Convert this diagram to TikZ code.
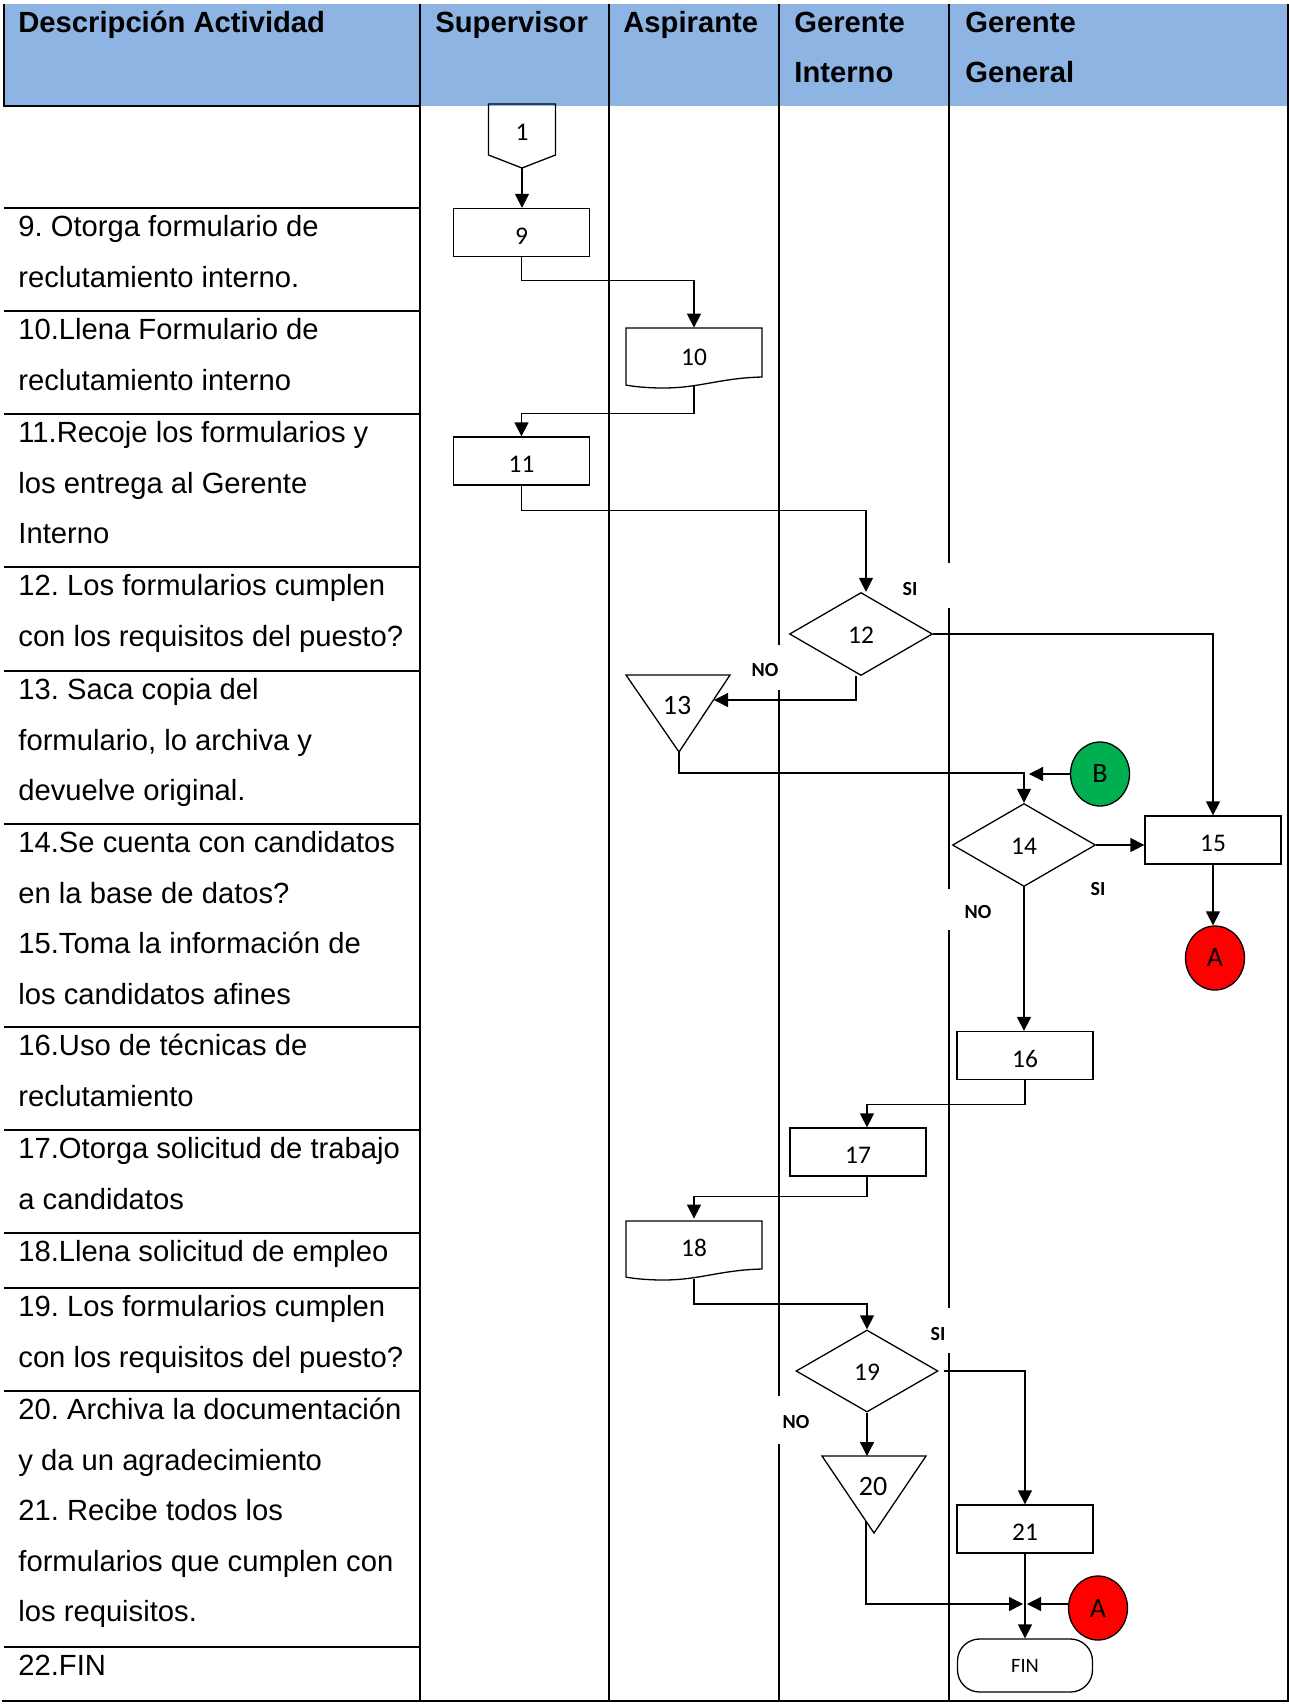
\documentclass[tikz,border=0pt]{standalone}
\usepackage{fontspec}
\setmainfont{Liberation Sans}
\newfontfamily\calib{Carlito}
\usetikzlibrary{arrows.meta,shapes.geometric,calc}
\definecolor{hdrblue}{RGB}{141,180,226}
\definecolor{conngreen}{RGB}{0,176,80}
\definecolor{connred}{RGB}{255,0,0}
\frenchspacing
\begin{document}
\begin{tikzpicture}[x=0.5pt,y=-0.5pt,
  grid/.style={line width=0.9pt},
  desc/.style={anchor=base west,inner sep=0pt,font=\fontsize{14.6pt}{17pt}\selectfont},
  head/.style={anchor=base west,inner sep=0pt,font=\fontsize{14.6pt}{17pt}\selectfont\bfseries},
  lab/.style={inner sep=0pt,font=\calib\fontsize{12.7pt}{15pt}\selectfont},
  proc/.style={draw,line width=0.65pt,rectangle,minimum width=68pt,minimum height=24pt,inner sep=0pt,
    text height=11.8pt,text depth=0pt,font=\calib\fontsize{12.7pt}{15pt}\selectfont},
  docbox/.style={rectangle,minimum width=68pt,minimum height=29pt,inner sep=0pt,font=\calib\fontsize{12.7pt}{15pt}\selectfont},
  decision/.style={draw,line width=0.65pt,diamond,aspect=1.7,minimum width=71.5pt,minimum height=41.5pt,inner sep=0pt,
    text height=9.4pt,text depth=0pt,font=\calib\fontsize{12.7pt}{15pt}\selectfont},
  tri/.style={inner sep=0pt,font=\calib\fontsize{14pt}{16pt}\selectfont},
  linkdot/.style={draw,line width=0.65pt,ellipse,minimum width=29.5pt,minimum height=32pt,inner sep=0pt,font=\calib\fontsize{14pt}{16pt}\selectfont},
  term/.style={draw,line width=0.65pt,rectangle,rounded corners=11pt,minimum width=67.5pt,minimum height=26.5pt,inner sep=0pt,font=\calib\fontsize{10.2pt}{12pt}\selectfont},
  flag/.style={inner sep=0pt,font=\calib\fontsize{10pt}{12pt}\selectfont\bfseries},
  outline/.style={line width=0.65pt},
  arr/.style={line width=0.65pt,-{Triangle[length=7pt,width=7pt]}}
]
\useasboundingbox (0,0) rectangle (1289,1705);

% ---------- table frame ----------
\fill[hdrblue] (4,4) rectangle (1288,106);
\draw[line width=1.2pt] (4,4) -- (4,106);
\draw[line width=1pt] (3.4,106) -- (420,106);
\draw[grid] (420,4) -- (420,1701);
\draw[grid] (609,4) -- (609,1701);
\draw[grid] (779,4) -- (779,645) (779,690) -- (779,1396) (779,1444) -- (779,1701);
\draw[grid] (949,4) -- (949,563) (949,608) -- (949,889) (949,930) -- (949,1308) (949,1353) -- (949,1701);
\draw[line width=1pt] (1288,4) -- (1288,1702);
\draw[line width=1.2pt] (2,1701) -- (1289,1701);
\foreach \yy in {208,311,414,567,671,824,1027,1130,1233,1288,1391,1647}
  \draw[grid] (4,\yy) -- (420,\yy);

% ---------- header ----------
\node[head] (hdesc) at (18,32.5) {Descripción Actividad};
\node[head] (hsup)  at (435,32.5) {Supervisor};
\node[head] (hasp)  at (623,32.5) {Aspirante};
\node[head] (hgi1)  at (794,32.5) {Gerente};
\node[head] (hgi2)  at (794,82.5) {Interno};
\node[head] (hgg1)  at (965,32.5) {Gerente};
\node[head] (hgg2)  at (965,82.5) {General};

% ---------- activity descriptions ----------
\foreach \yy/\txt [count=\k] in {
  236.5/{9. Otorga formulario de},
  287/{reclutamiento interno.},
  339.5/{10.Llena Formulario de},
  390/{reclutamiento interno},
  442.5/{11.Recoje los formularios y},
  493/{los entrega al Gerente},
  543.5/{Interno},
  595.5/{12. Los formularios cumplen},
  646/{con los requisitos del puesto?},
  699.5/{13. Saca copia del},
  750/{formulario, lo archiva y},
  800.5/{devuelve original.},
  852.5/{14.Se cuenta con candidatos},
  903/{en la base de datos?},
  953.5/{15.Toma la información de},
  1004/{los candidatos afines},
  1055.5/{16.Uso de técnicas de},
  1106/{reclutamiento},
  1158.5/{17.Otorga solicitud de trabajo},
  1209/{a candidatos},
  1261.5/{18.Llena solicitud de empleo},
  1316.5/{19. Los formularios cumplen},
  1367/{con los requisitos del puesto?},
  1419.5/{20. Archiva la documentación},
  1470/{y da un agradecimiento},
  1520.5/{21. Recibe todos los},
  1571/{formularios que cumplen con},
  1621.5/{los requisitos.},
  1675.5/{22.FIN}}
  \node[desc] (d\k) at (18,\yy) {\txt};

% ---------- flow symbols ----------
% off-page start connector
\node[lab] (n1) at (522,132) {1};
\begin{scope}[shift={(n1.center)}]
  \draw[outline] (-33.5,-28) -- (33.5,-28) -- (33.5,23) -- (0,36) -- (-33.5,23) -- cycle;
  \coordinate (n1tip) at (0,36);
\end{scope}

\node[proc] (n9) at (521.5,232.5) {9};

% document symbol
\node[docbox] (n10) at (694,357) {10};
\begin{scope}[shift={(n10.center)}]
  \draw[outline] (-68,-29) -- (68,-29) -- (68,20)
    .. controls (26,21) and (6,31) .. (-31,31)
    .. controls (-49,31) and (-64,29) .. (-68,28) -- cycle;
\end{scope}

\node[proc] (n11) at (521.5,461) {11};
\node[decision] (n12) at (861,634) {12};

% file (inverted triangle)
\node[tri] (n13) at (677,705) {13};
\begin{scope}[shift={(n13.center)}]
  \draw[outline] (-51,-30) -- (53,-30) -- (2,47) -- cycle;
  \coordinate (n13in) at (37,-5);
  \coordinate (n13out) at (2,47);
\end{scope}

\node[linkdot,fill=conngreen] (nB) at (1100,774) {B};
\node[decision] (n14) at (1024,845) {14};
\node[proc] (n15) at (1213,840) {15};
\node[linkdot,fill=connred] (nA1) at (1215,958) {A};
\node[proc] (n16) at (1025,1055.5) {16};
\node[proc] (n17) at (858,1152) {17};

\node[docbox] (n18) at (694,1248) {18};
\begin{scope}[shift={(n18.center)}]
  \draw[outline] (-68,-27) -- (68,-27) -- (68,21)
    .. controls (26,22) and (6,32) .. (-31,32)
    .. controls (-49,32) and (-64,30) .. (-68,29) -- cycle;
  \coordinate (n18out) at (0,31);
\end{scope}

\node[decision,minimum width=71pt,minimum height=41pt] (n19) at (867,1371) {19};

\node[tri] (n20) at (873,1486) {20};
\begin{scope}[shift={(n20.center)}]
  \draw[outline] (-51,-30) -- (53,-30) -- (1,47) -- cycle;
  \coordinate (n20in) at (-7,-30);
  \coordinate (n20out) at (-7,35);
\end{scope}

\node[proc] (n21) at (1025,1529) {21};
\node[linkdot,fill=connred] (nA2) at (1098,1608) {A};
\node[term] (nfin) at (1025,1665.5) {FIN};

% ---------- decision labels ----------
\node[flag] (si12) at (910,589) {SI};
\node[flag] (no12) at (765,670) {NO};
\node[flag] (si14) at (1098,889) {SI};
\node[flag] (no14) at (978,912) {NO};
\node[flag] (si19) at (938,1334) {SI};
\node[flag] (no19) at (796,1422) {NO};

% ---------- connectors ----------
\draw[arr] (n1tip) -- (n1tip |- n9.north);
\draw[arr] (n9.south) -- ++(0,23) -| (n10.north);
\draw[arr] (n10.south) -- ++(0,27) -| (n11.north);
\draw[arr] (n11.south) -- ++(0,25) -| ($(n12.north)+(5,0)$);
\draw[arr] (n12.east) -| (n15.north);
\draw[arr] ($(n12.south)+(-5,0)$) |- (n13in);
\draw[arr] (n13out) -- ++(0,21) -| (n14.north);
\draw[arr,shorten >=2.5pt] (nB.west) -- (nB.west -| n14.north);
\draw[arr] (n14.east) -- (n14.east -| n15.west);
\draw[arr] (n15.south) -- (n15.south |- nA1.north);
\draw[arr] (n14.south) -- (n14.south |- n16.north);
\draw[arr] (n16.south) -- ++(0,24) -| (n17.north -| n19.north);
\draw[arr] (n17.south -| n19.north) -- ++(0,20) -| (n18.north);
\draw[arr] (n18out) -- ++(0,25) -| (n19.north);
\draw[arr] ($(n19.east)+(5,0)$) -| (n21.north);
\draw[arr] (n19.south) -- (n19.south |- n20in);
\coordinate (join) at ($(n21.south |- nA2.west)+(0,-4)$);
\draw[arr,shorten >=1pt] (n20out) |- (join);
\draw[arr,shorten >=1pt] (nA2.west |- join) -- (join);
\draw[arr] (n21.south) -- (nfin.north);
\end{tikzpicture}
\end{document}
